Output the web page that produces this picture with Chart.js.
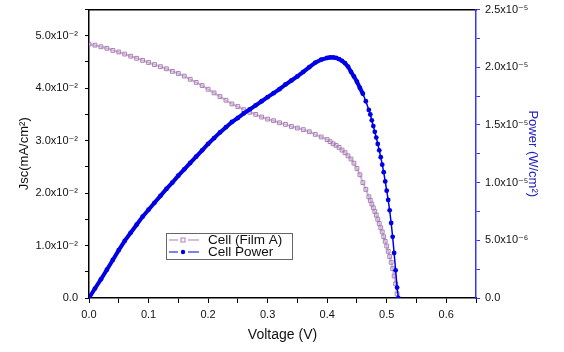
<!DOCTYPE html>
<html>
<head>
<meta charset="utf-8">
<script src="https://cdn.jsdelivr.net/npm/chart.js@4.4.1/dist/chart.umd.min.js"></script>
<style>
  body { margin: 0; background: #fff; }
  .chart-container { position: relative; width: 564px; height: 352px; }
</style>
</head>
<body>
<div class="chart-container"><canvas id="chart"></canvas></div>
<script>
// voltage (V) shared by both curves
const voltage = [
  0.00, 0.01, 0.02, 0.03, 0.04, 0.05, 0.06, 0.07, 0.08, 0.09,
  0.10, 0.11, 0.12, 0.13, 0.14, 0.15, 0.16, 0.17, 0.18, 0.19,
  0.20, 0.21, 0.22, 0.23, 0.24, 0.25, 0.26, 0.27, 0.28, 0.29,
  0.30, 0.31, 0.32, 0.33, 0.34, 0.35, 0.36, 0.37, 0.38, 0.39,
  0.40, 0.405, 0.41, 0.415, 0.42, 0.425, 0.43, 0.435, 0.44, 0.445,
  0.45, 0.455, 0.46, 0.465, 0.47, 0.4725, 0.475, 0.4775, 0.48, 0.4825,
  0.485, 0.4875, 0.49, 0.4925, 0.495, 0.4975, 0.50, 0.5025, 0.505, 0.5075,
  0.51, 0.5125, 0.515, 0.5175, 0.5195
];
// Jsc (mA/cm2) for Cell (Film A)
const jsc = [
  0.0484, 0.0482, 0.0479, 0.0476, 0.0472, 0.0469, 0.0465, 0.0461, 0.0457, 0.0453,
  0.0449, 0.0445, 0.0441, 0.0437, 0.0432, 0.0428, 0.0423, 0.0417, 0.0411, 0.0405,
  0.0398, 0.0391, 0.0384, 0.0377, 0.0370, 0.0365, 0.0359, 0.0354, 0.0350, 0.0345,
  0.0341, 0.0338, 0.0334, 0.0331, 0.0327, 0.0324, 0.0321, 0.0317, 0.0312, 0.0307,
  0.0302, 0.0298, 0.0294, 0.0291, 0.0287, 0.0282, 0.0277, 0.0271, 0.0265, 0.0257,
  0.0247, 0.0235, 0.0220, 0.0207, 0.0193, 0.0186, 0.0179, 0.0172, 0.0165, 0.0158,
  0.0150, 0.0142, 0.0134, 0.0126, 0.0117, 0.0108, 0.0099, 0.0089, 0.0079, 0.0068,
  0.0056, 0.0042, 0.0027, 0.0008, null
];
// Cell power (W/cm2)
const power = [
  0, 0.82e-6, 1.62e-6, 2.45e-6, 3.3e-6, 4.15e-6, 4.95e-6, 5.65e-6, 6.35e-6, 7.05e-6,
  7.65e-6, 8.25e-6, 8.85e-6, 9.45e-6, 10.0e-6, 10.6e-6, 11.15e-6, 11.7e-6, 12.25e-6, 12.8e-6,
  13.35e-6, 13.85e-6, 14.35e-6, 14.8e-6, 15.25e-6, 15.6e-6, 16.0e-6, 16.35e-6, 16.7e-6, 17.05e-6,
  17.4e-6, 17.75e-6, 18.1e-6, 18.5e-6, 18.85e-6, 19.2e-6, 19.6e-6, 20.0e-6, 20.4e-6, 20.65e-6,
  20.8e-6, 20.85e-6, 20.85e-6, 20.8e-6, 20.7e-6, 20.55e-6, 20.35e-6, 20.05e-6, 19.6e-6, 19.2e-6,
  18.75e-6, 18.2e-6, 17.7e-6, 17.05e-6, 16.3e-6, 15.9e-6, 15.4e-6, 14.9e-6, 14.4e-6, 13.9e-6,
  13.35e-6, 12.8e-6, 12.2e-6, 11.55e-6, 10.9e-6, 10.1e-6, 9.3e-6, 8.5e-6, 7.6e-6, 6.5e-6,
  5.3e-6, 3.9e-6, 2.4e-6, 0.9e-6, 0
];

const xTickLabels = ['0.0', '0.1', '0.2', '0.3', '0.4', '0.5', '0.6'];
const leftTickLabels = ['0.0', '1.0x10\u207B\u00B2', '2.0x10\u207B\u00B2', '3.0x10\u207B\u00B2', '4.0x10\u207B\u00B2', '5.0x10\u207B\u00B2'];
const rightTickLabels = ['0.0', '5.0x10\u207B\u2076', '1.0x10\u207B\u2075', '1.5x10\u207B\u2075', '2.0x10\u207B\u2075', '2.5x10\u207B\u2075'];

const FONT = '"Liberation Sans", Arial, "DejaVu Sans", sans-serif';
const jColor = '#a880b4';
const pColor = '#0000e6';
const axisBlue = '#3434ff';

// legend box drawn inside the plot, like the original
const boxLegend = {
  id: 'boxLegend',
  afterDraw(chart) {
    const ctx = chart.ctx;
    const area = chart.chartArea;
    const x = area.left + 77, y = 233, w = 126, h = 26;
    ctx.save();
    ctx.fillStyle = '#fff';
    ctx.fillRect(x, y, w, h);
    ctx.strokeStyle = '#666';
    ctx.lineWidth = 1;
    ctx.strokeRect(x + 0.5, y + 0.5, w, h);
    ctx.font = '13.5px ' + FONT;
    ctx.textBaseline = 'middle';
    ctx.fillStyle = '#111';
    const rows = [
      { ds: chart.data.datasets[0], cy: y + 7 },
      { ds: chart.data.datasets[1], cy: y + 19 }
    ];
    rows.forEach(r => {
      const lx = x + 3, mx = x + 17;
      ctx.strokeStyle = r.ds.pointStyle === 'rect' ? r.ds.pointBorderColor : r.ds.borderColor;
      ctx.lineWidth = 1.2;
      ctx.beginPath();
      ctx.moveTo(lx, r.cy); ctx.lineTo(mx - 5, r.cy);
      ctx.moveTo(mx + 5, r.cy); ctx.lineTo(lx + 30, r.cy);
      ctx.stroke();
      if (r.ds.pointStyle === 'rect') {
        ctx.strokeStyle = r.ds.pointBorderColor;
        ctx.lineWidth = 1;
        ctx.strokeRect(mx - 2, r.cy - 2, 4, 4);
      } else {
        ctx.fillStyle = r.ds.pointBackgroundColor;
        ctx.beginPath();
        ctx.arc(mx, r.cy, 2.2, 0, Math.PI * 2);
        ctx.fill();
      }
      ctx.fillStyle = '#111';
      ctx.fillText(r.ds.label, x + 42, r.cy + 0.5);
    });
    ctx.restore();
  }
};

// vertical axes: fixed width, no extra room for half-labels at the ends
const fixV = w => s => { s.width = w; s.paddingTop = 0; s.paddingBottom = 0; };

new Chart(document.getElementById('chart'), {
  type: 'line',
  data: {
    datasets: [
      {
        label: 'Cell (Film A)',
        data: voltage.map((v, i) => ({ x: v, y: jsc[i] })),
        yAxisID: 'y',
        borderColor: '#d2b6d8',
        borderWidth: 2,
        pointStyle: 'rect',
        pointRadius: 2.7,
        pointBorderColor: jColor,
        pointBackgroundColor: 'rgba(255,255,255,0)',
        pointBorderWidth: 1,
        order: 1
      },
      {
        label: 'Cell Power',
        data: voltage.map((v, i) => ({ x: v, y: power[i] })),
        yAxisID: 'y1',
        borderColor: pColor,
        borderWidth: 4,
        // the steep tail shows separate dots on a thin line
        segment: { borderWidth: c => (c.p0.parsed.x >= 0.46 ? 1.5 : 4) },
        pointStyle: 'circle',
        pointRadius: 2.4,
        pointBackgroundColor: pColor,
        pointBorderWidth: 0,
        order: 0
      }
    ]
  },
  options: {
    responsive: true,
    maintainAspectRatio: false,
    animation: false,
    layout: { padding: { top: 9.5, left: 0, right: 0, bottom: 0 } },
    plugins: { legend: { display: false }, tooltip: { enabled: false } },
    scales: {
      x: {
        type: 'linear', position: 'bottom', min: 0, max: 0.65,
        ticks: {
          stepSize: 0.05, autoSkip: false, maxRotation: 0, padding: 5,
          color: '#111', font: { family: FONT, size: 11 },
          callback: (v, i) => (i % 2 === 0 ? xTickLabels[i / 2] : '')
        },
        grid: { drawOnChartArea: false, tickLength: 5, color: '#000' },
        border: { color: '#000', width: 1.5 },
        title: { display: true, text: 'Voltage (V)', color: '#111', font: { family: FONT, size: 14 }, padding: { top: 0, bottom: 8 } },
        afterFit: s => { s.height = 54; s.paddingLeft = 0; s.paddingRight = 0; }
      },
      xTop: {
        type: 'linear', position: 'top', min: 0, max: 0.65,
        ticks: { display: false },
        grid: { drawOnChartArea: false, drawTicks: false },
        border: { color: '#000', width: 1.5 },
        afterFit: s => { s.height = 0; s.paddingLeft = 0; s.paddingRight = 0; }
      },
      y: {
        type: 'linear', position: 'left', min: 0, max: 0.055,
        ticks: {
          stepSize: 0.005, autoSkip: false, padding: 7,
          color: '#111', font: { family: FONT, size: 11 },
          callback: (v, i) => (i % 2 === 0 ? leftTickLabels[i / 2] : '')
        },
        grid: { drawOnChartArea: false, tickLength: 4, color: '#000' },
        border: { color: '#000', width: 1.5 },
        title: { display: true, text: 'Jsc(mA/cm\u00B2)', color: '#111', font: { family: FONT, size: 13 }, padding: { top: 17, bottom: 0 } },
        afterFit: fixV(89)
      },
      y1: {
        type: 'linear', position: 'right', min: 0, max: 2.5e-5,
        ticks: {
          stepSize: 2.5e-6, autoSkip: false, padding: 5,
          color: '#111', font: { family: FONT, size: 11 },
          callback: (v, i) => (i % 2 === 0 ? rightTickLabels[i / 2] : '')
        },
        grid: { drawOnChartArea: false, tickLength: 4, color: axisBlue },
        border: { color: axisBlue, width: 1.5 },
        title: { display: true, text: 'Power (W/cm\u00B2)', color: '#2222b8', font: { family: FONT, size: 13 }, padding: { top: 24, bottom: 0 } },
        afterFit: fixV(88)
      }
    }
  },
  plugins: [boxLegend]
});
</script>
</body>
</html>
